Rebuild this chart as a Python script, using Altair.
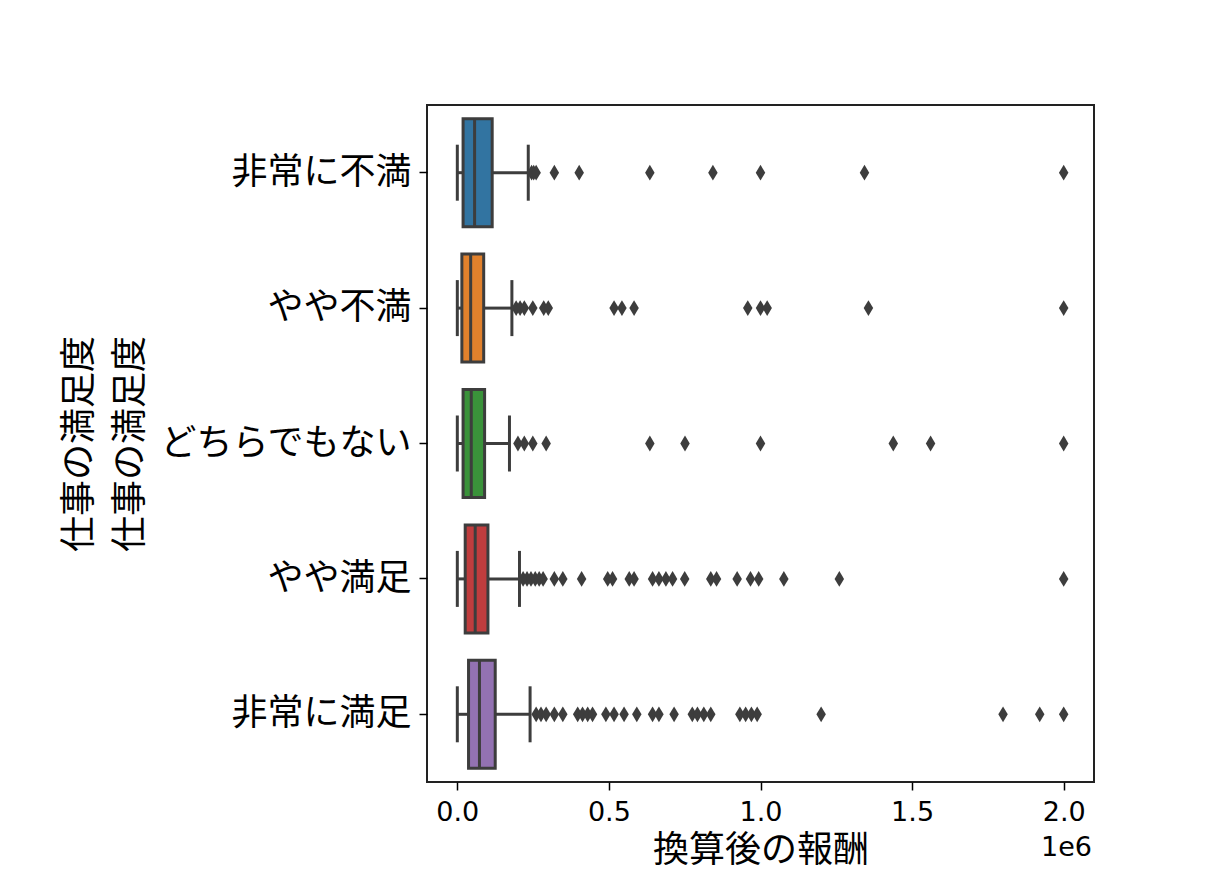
import altair as alt
import pandas as pd

# 満足度カテゴリと箱ひげ図の要約値
cats = ["非常に不満", "やや不満", "どちらでもない", "やや満足", "非常に満足"]
colors = ["#3274a1", "#e1812c", "#3a923a", "#c03d3e", "#9372b2"]
whisker_lo = [0, 0, 0, 0, 0]
q1 = [19000, 15000, 19000, 26000, 37000]
median = [57000, 44000, 46000, 59000, 73000]
q3 = [115000, 87000, 90000, 101000, 125000]
whisker_hi = [234000, 180000, 172000, 205000, 240000]

outliers_0 = [245000, 252000, 260000, 320000, 402000, 635000, 843000, 1000000, 1343000, 2000000]
outliers_1 = [194000, 207000, 221000, 249000, 285000, 300000, 517000, 543000, 583000,
              958000, 1000000, 1022000, 1356000, 2000000]
outliers_2 = [200000, 221000, 249000, 293000, 635000, 751000, 1000000, 1438000, 1561000, 2000000]
outliers_3 = [217000, 230000, 243000, 257000, 270000, 283000, 320000, 348000, 410000,
              496000, 512000, 567000, 583000, 644000, 665000, 688000, 710000, 750000,
              836000, 855000, 923000, 967000, 994000, 1077000, 1260000, 2000000]
outliers_4 = [260000, 276000, 293000, 320000, 348000, 397000, 413000, 430000, 446000,
              490000, 517000, 550000, 592000, 644000, 665000, 715000, 775000, 792000,
              813000, 836000, 932000, 951000, 970000, 989000, 1200000, 1800000, 1921000, 2000000]

x_ticks = [0, 500000, 1000000, 1500000, 2000000]

W, H = 667, 677
EDGE = "#3d3d3d"
JP = "Noto Sans CJK JP"

stats = pd.DataFrame({
    "cat": cats, "lo": whisker_lo, "q1": q1, "med": median, "q3": q3, "hi": whisker_hi,
})
out_rows = []
for c, vals in zip(cats, [outliers_0, outliers_1, outliers_2, outliers_3, outliers_4]):
    for v in vals:
        out_rows.append({"cat": c, "v": v})
outs = pd.DataFrame(out_rows)

xscale = alt.Scale(domain=[-100000, 2100000], nice=False, zero=False)
yscale = alt.Scale(domain=cats, paddingInner=0, paddingOuter=0)

xaxis = alt.Axis(
    values=x_ticks, labelExpr="format(datum.value / 1000000, '.1f')",
    title="換算後の報酬", titleFont=JP, titleFontSize=36, titleFontWeight="normal",
    titleColor="black", titlePadding=8,
    labelFont="DejaVu Sans", labelFontSize=27, labelColor="black", labelPadding=9,
    tickSize=8, tickWidth=1.5, tickColor="black", grid=False, domain=False,
)
yaxis = alt.Axis(
    title=["仕事の満足度", "仕事の満足度"], titleFont=JP, titleFontSize=36,
    titleFontWeight="normal", titleColor="black", titlePadding=78, titleLineHeight=51,
    labelFont=JP, labelFontSize=36, labelColor="black", labelPadding=8, labelLimit=400,
    tickSize=8, tickWidth=1.5, tickColor="black", grid=False, domain=False,
)

base = alt.Chart(stats)
y_enc = alt.Y("cat:N", scale=yscale, axis=yaxis, sort=cats)
y_plain = alt.Y("cat:N", sort=cats)

whisk_left = base.mark_rule(color=EDGE, strokeWidth=3).encode(
    x=alt.X("lo:Q", scale=xscale, axis=xaxis), x2="q1:Q", y=y_enc)
whisk_right = base.mark_rule(color=EDGE, strokeWidth=3).encode(
    x=alt.X("q3:Q", scale=xscale), x2="hi:Q", y=y_plain)
cap_lo = base.mark_tick(orient="vertical", size=56, thickness=3, color=EDGE, opacity=1).encode(
    x=alt.X("lo:Q", scale=xscale), y=y_plain)
cap_hi = base.mark_tick(orient="vertical", size=56, thickness=3, color=EDGE, opacity=1).encode(
    x=alt.X("hi:Q", scale=xscale), y=y_plain)
box = base.mark_bar(size=108, stroke=EDGE, strokeWidth=3, opacity=1).encode(
    x=alt.X("q1:Q", scale=xscale), x2="q3:Q", y=y_plain,
    color=alt.Color("cat:N", scale=alt.Scale(domain=cats, range=colors), legend=None))
med = base.mark_tick(orient="vertical", size=108, thickness=3, color=EDGE, opacity=1).encode(
    x=alt.X("med:Q", scale=xscale), y=y_plain)

fliers = alt.Chart(outs).mark_point(
    shape="M0,-1L0.6,0L0,1L-0.6,0Z", filled=True, size=250, color=EDGE, opacity=1
).encode(x=alt.X("v:Q", scale=xscale), y=y_plain)

offset = alt.Chart(pd.DataFrame({"t": ["1e6"]})).mark_text(
    font="DejaVu Sans", fontSize=27, align="right", baseline="middle", color="black"
).encode(text="t:N", x=alt.value(W - 2), y=alt.value(H + 66))

chart = alt.layer(
    whisk_left, whisk_right, cap_lo, cap_hi, box, med, fliers, offset
).properties(
    width=W, height=H,
    background="white",
    autosize=alt.AutoSizeParams(type="none"),
    padding={"left": 419, "top": 97, "right": 30, "bottom": 95},
).configure_view(
    stroke="#222222", strokeWidth=2
)

chart.save("out.html", embed_options={"renderer": "svg", "actions": False})
